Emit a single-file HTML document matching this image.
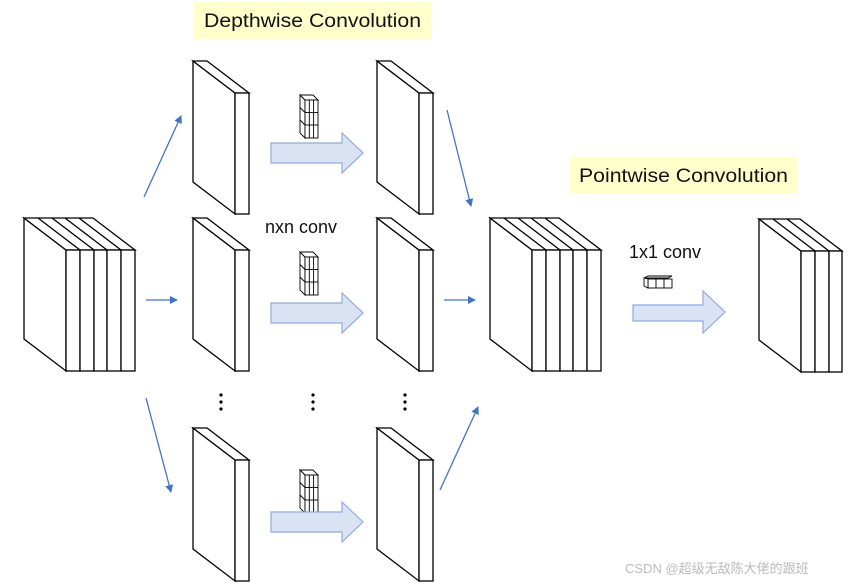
<!DOCTYPE html>
<html><head><meta charset="utf-8"><style>
html,body{margin:0;padding:0;background:#fff;}
svg{display:block;}
text{font-family:"Liberation Sans","Noto Sans CJK SC",sans-serif;}
</style></head><body>
<svg width="866" height="587" viewBox="0 0 866 587" xmlns="http://www.w3.org/2000/svg">
<defs>
<g id="s1" fill="#fff" stroke="#000" stroke-width="1.3">
<polygon points="0,0 42,32 42,153 0,121"/>
<polygon points="0,0 14,0 56,32 42,32"/>
<rect x="42" y="32" width="14" height="121"/>
</g>
<g id="s5" fill="#fff" stroke="#000" stroke-width="1.3">
<polygon points="0,0 42,32 42,153 0,121"/>
<polygon points="0,0 69,0 111,32 42,32"/>
<line x1="14" y1="0" x2="56" y2="32"/><line x1="28" y1="0" x2="70" y2="32"/><line x1="41" y1="0" x2="83" y2="32"/><line x1="55" y1="0" x2="97" y2="32"/>
<rect x="42" y="32" width="14" height="121"/><rect x="56" y="32" width="14" height="121"/><rect x="70" y="32" width="13" height="121"/><rect x="83" y="32" width="14" height="121"/><rect x="97" y="32" width="14" height="121"/>
</g>
<g id="s3" fill="#fff" stroke="#000" stroke-width="1.3">
<polygon points="0,0 42,32 42,153 0,121"/>
<polygon points="0,0 41,0 83,32 42,32"/>
<line x1="14" y1="0" x2="56" y2="32"/><line x1="28" y1="0" x2="70" y2="32"/>
<rect x="42" y="32" width="14" height="121"/><rect x="56" y="32" width="14" height="121"/><rect x="70" y="32" width="13" height="121"/>
</g>
<g id="k" fill="#fff" stroke="#000" stroke-width="0.9">
<polygon points="0,0 5,5 5,43 0,38"/>
<polygon points="0,0 13,0 18,5 5,5"/>
<rect x="5" y="5" width="13" height="38"/>
<line x1="9.3" y1="5" x2="9.3" y2="43"/><line x1="13.6" y1="5" x2="13.6" y2="43"/>
<line x1="5" y1="17.5" x2="18" y2="17.5"/><line x1="5" y1="30" x2="18" y2="30"/>
<line x1="0" y1="12.5" x2="5" y2="17.5"/><line x1="0" y1="25" x2="5" y2="30"/>
</g>
<g id="ba" fill="#dae3f3" stroke="#8faadc" stroke-width="1.2">
<polygon points="0,-10 71,-10 71,-20 92,0 71,20 71,10 0,10"/>
</g>
<marker id="ah" markerWidth="8" markerHeight="8" refX="7" refY="4" orient="auto" markerUnits="userSpaceOnUse"><polygon points="0,0 8,4 0,8" fill="#4472c4"/></marker>
</defs>

<rect x="194" y="2" width="237" height="37" fill="#ffffcc"/>
<text x="204" y="27" font-size="19" textLength="217" lengthAdjust="spacingAndGlyphs" fill="#111">Depthwise Convolution</text>
<rect x="570" y="157" width="227" height="36" fill="#ffffcc"/>
<text x="579" y="182" font-size="19" textLength="209" lengthAdjust="spacingAndGlyphs" fill="#111">Pointwise Convolution</text>

<use href="#s5" x="24" y="218"/>
<use href="#s1" x="193" y="61"/>
<use href="#s1" x="193" y="218"/>
<use href="#s1" x="193" y="428"/>
<use href="#s1" x="377" y="61"/>
<use href="#s1" x="377" y="218"/>
<use href="#s1" x="377" y="428"/>
<use href="#s5" x="490" y="218"/>
<use href="#s3" x="759" y="219"/>

<use href="#k" x="300" y="95"/>
<use href="#k" x="300" y="252"/>
<use href="#k" x="300" y="470"/>
<g fill="#fff" stroke="#000" stroke-width="0.9">
<polygon points="644,278 648,276 672,276 668,278"/>
<rect x="648" y="279" width="24" height="9"/>
<polygon points="644,278 648,279 648,288 644,286"/>
<line x1="656" y1="279" x2="656" y2="288"/><line x1="664" y1="279" x2="664" y2="288"/>
</g>

<use href="#ba" x="271" y="153"/>
<use href="#ba" x="271" y="313"/>
<use href="#ba" x="271" y="522"/>
<g fill="#dae3f3" stroke="#8faadc" stroke-width="1.2"><polygon points="633,305 703,305 703,291 725,312 703,333 703,321 633,321"/></g>

<g stroke="#4472c4" stroke-width="1.3" marker-end="url(#ah)">
<line x1="144" y1="197" x2="181" y2="116"/>
<line x1="146" y1="300" x2="177" y2="300"/>
<line x1="146" y1="398" x2="171" y2="492"/>
<line x1="447" y1="110" x2="471" y2="206"/>
<line x1="444" y1="300" x2="475" y2="300"/>
<line x1="440" y1="490" x2="478" y2="407"/>
</g>

<g fill="#000">
<circle cx="221" cy="395" r="1.6"/><circle cx="221" cy="402" r="1.6"/><circle cx="221" cy="409" r="1.6"/>
<circle cx="313" cy="395" r="1.6"/><circle cx="313" cy="402" r="1.6"/><circle cx="313" cy="409" r="1.6"/>
<circle cx="405" cy="395" r="1.6"/><circle cx="405" cy="402" r="1.6"/><circle cx="405" cy="409" r="1.6"/>
</g>

<text x="265" y="233" font-size="18" fill="#111">nxn conv</text>
<text x="629" y="258" font-size="18" fill="#111">1x1 conv</text>
<text x="625" y="573" font-size="13" fill="#bbb">CSDN @超级无敌陈大佬的跟班</text>
</svg>
</body></html>
